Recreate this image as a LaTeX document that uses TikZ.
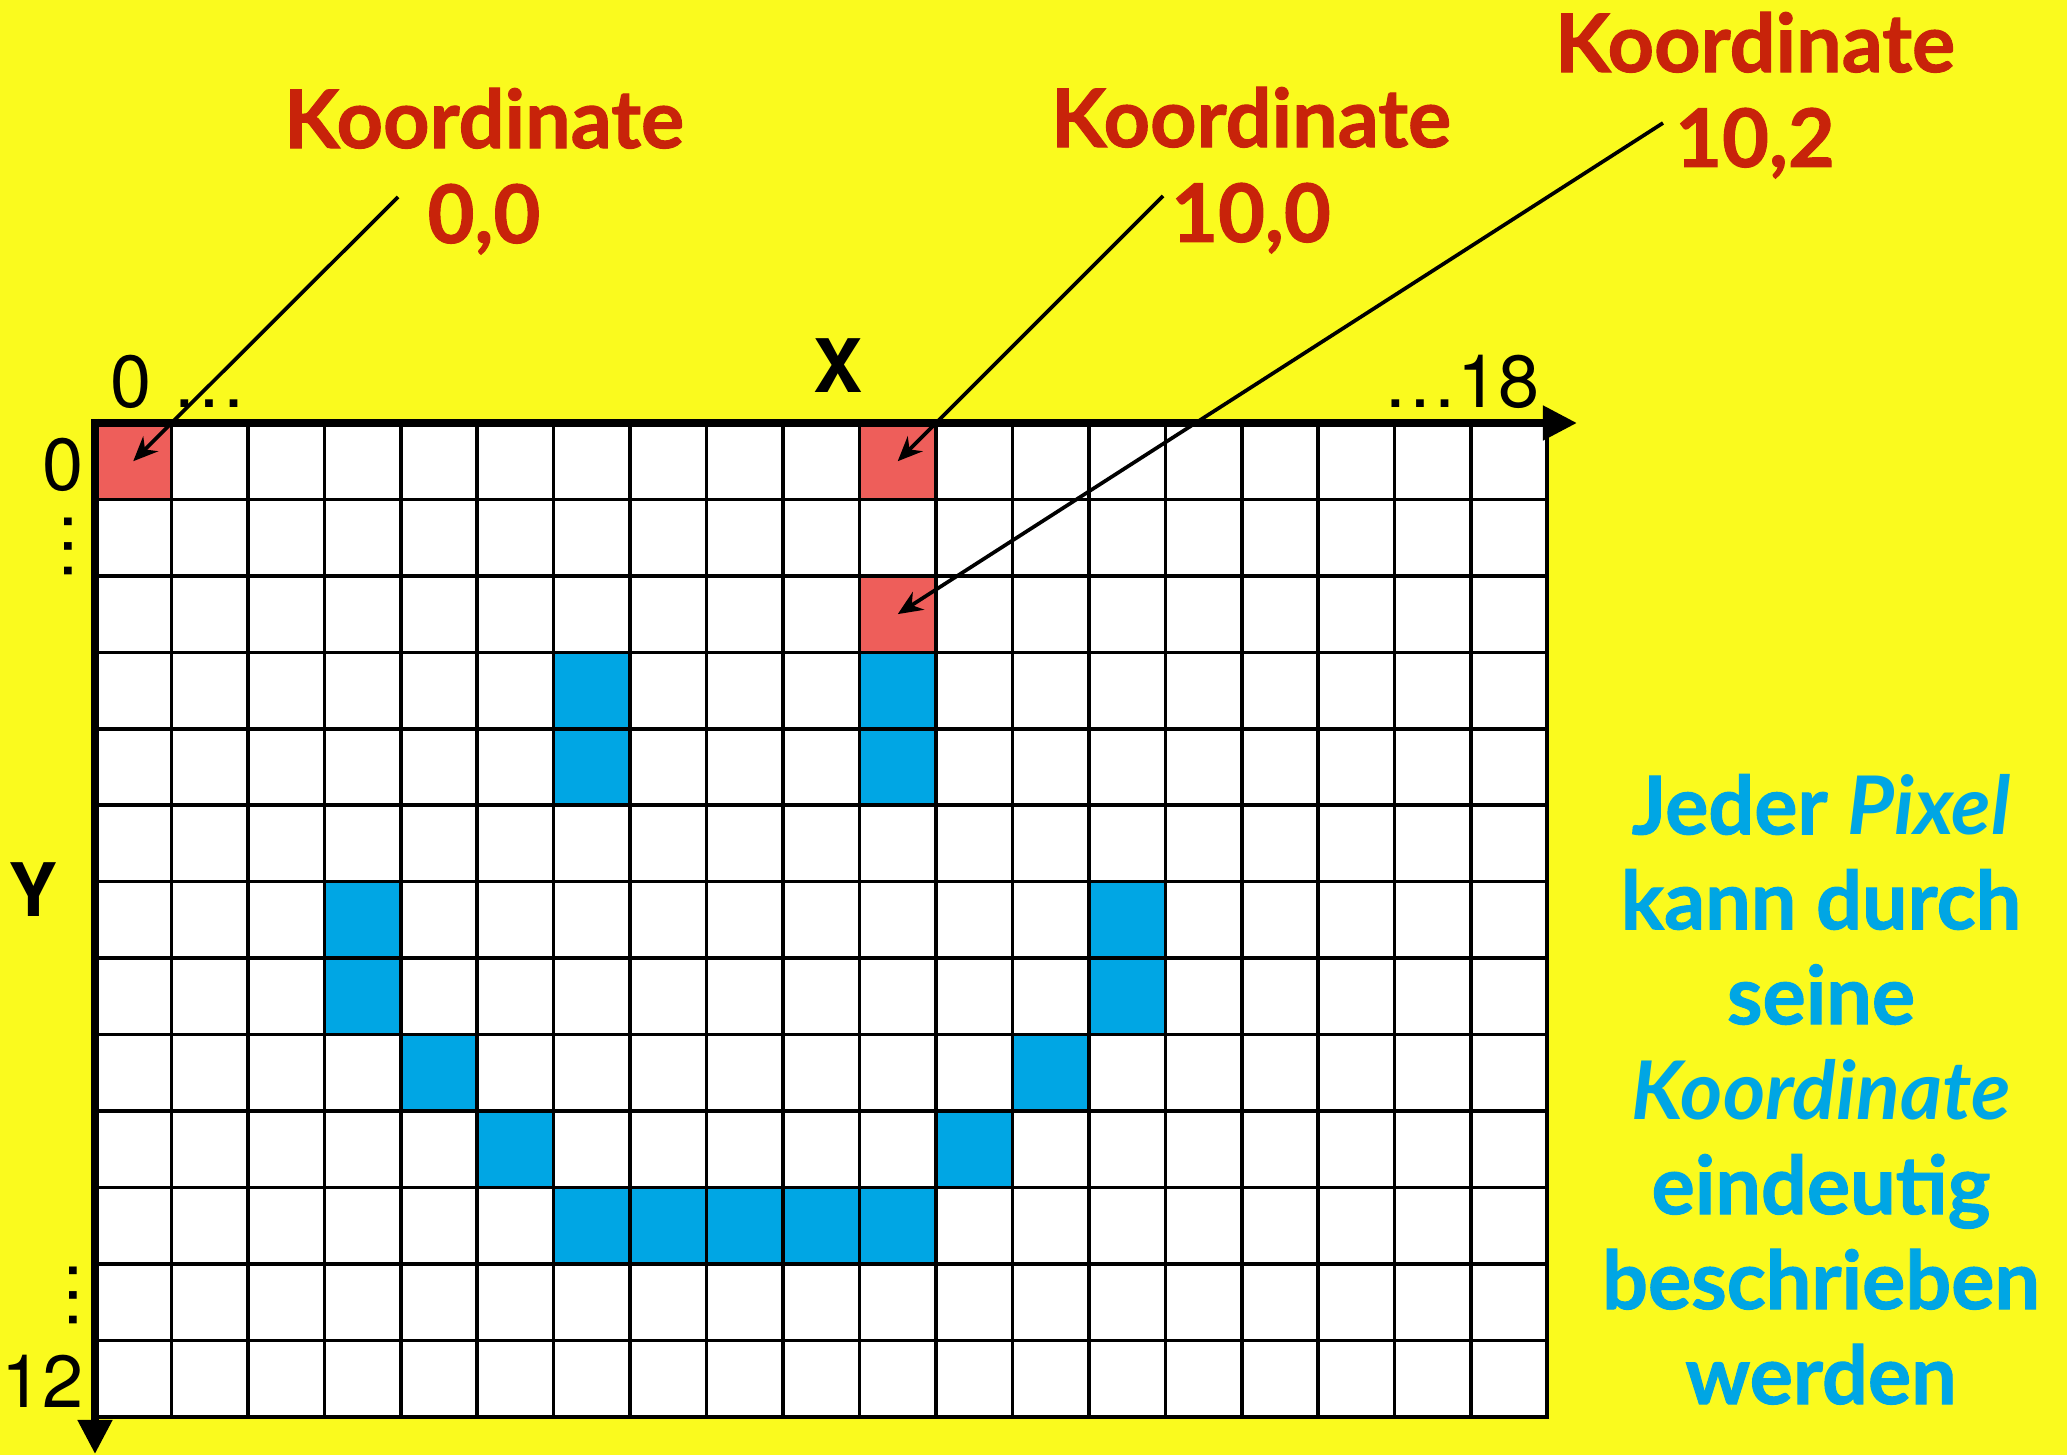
\documentclass[tikz,border=0pt]{standalone}
\usepackage{fontspec}
\usetikzlibrary{arrows.meta}
\newfontfamily\latof{Lato}[BoldFeatures={FakeBold=1.2}]
\newfontfamily\helvf{TeX Gyre Heros}
\definecolor{bgyellow}{HTML}{FAFA1E}
\definecolor{cellred}{HTML}{EE5E5A}
\definecolor{cellblue}{HTML}{00A6E4}
\definecolor{labelred}{HTML}{C8230A}
\definecolor{textblue}{HTML}{00A6E4}
\begin{document}
\begin{tikzpicture}[x=0.01cm,y=-0.01cm,
  cell/.style={minimum size=0.7645cm, inner sep=0pt, outer sep=0pt, draw=none},
  gridline/.style={line width=1pt, black},
  edgeline/.style={line width=1.2pt, black},
  axis/.style={line width=2.2pt, black, -{Triangle[length=9.7pt,width=9.4pt]}},
  pointer/.style={line width=1.05pt, black, -{Stealth[length=7pt,width=6pt]}},
  redlabel/.style={font=\latof\bfseries\fontsize{23}{27}\selectfont, text=labelred, align=center, inner sep=0pt, anchor=base},
  bluetext/.style={font=\latof\bfseries\fontsize{23}{27}\selectfont, text=textblue, align=center, inner sep=0pt, anchor=base},
  axnum/.style={font=\helvf\fontsize{21}{25}\selectfont, inner sep=0pt},
  axbold/.style={font=\helvf\bfseries\fontsize{21}{25}\selectfont, inner sep=0pt},
]
\useasboundingbox (0,0) rectangle (2067,1455);
\fill[bgyellow] (0,0) rectangle (2067,1455);
% grid area
\fill[white] (95,423) rectangle (1547,1417);
% red cells
\node[cell, fill=cellred] (r00) at ({95+0.5*76.45},{423+0.5*76.45}) {};
\node[cell, fill=cellred] (r100) at ({95+10.5*76.45},{423+0.5*76.45}) {};
\node[cell, fill=cellred] (r102) at ({95+10.5*76.45},{423+2.5*76.45}) {};
% blue cells
\foreach \c/\r in {6/3,6/4,10/3,10/4,3/6,3/7,13/6,13/7,4/8,12/8,5/9,11/9,6/10,7/10,8/10,9/10,10/10}
  \node[cell, fill=cellblue] (b\c-\r) at ({95+(\c+0.5)*76.45},{423+(\r+0.5)*76.45}) {};
% grid lines
\foreach \i in {1,...,18}
  \draw[gridline] ({95+\i*76.45},423) -- ({95+\i*76.45},1417);
\foreach \j in {1,...,12}
  \draw[gridline] (95,{423+\j*76.45}) -- (1547,{423+\j*76.45});
\draw[edgeline] (1547,423) -- (1547,1417) -- (95,1417);
% axes
\draw[axis] (91,423) -- (1577,423);
\draw[axis] (95,419) -- (95,1454);
% axis labels
\node[axnum, anchor=base west] (x0) at (110,407) {0 …};
\node[axnum, anchor=base east] (x18) at (1540,407) {…18};
\node[axnum, anchor=base east] (y0) at (84,491) {0};
\node[axnum, anchor=base east] (y12) at (84,1407) {12};
\node[axnum, rotate=-90] (yd1) at (68,546) {…};
\node[axnum, rotate=-90] (yd2) at (73,1295) {…};
\node[axbold, anchor=base] (xl) at (838,393) {X};
\node[axbold, anchor=base] (yl) at (33,916) {Y};
% labels (base = baseline of last line)
\node[redlabel] (l1) at (484,243) {Koordinate\\0,0};
\node[redlabel] (l2) at (1251,242) {Koordinate\\10,0};
\node[redlabel] (l3) at (1755,167) {Koordinate\\10,2};
\coordinate (s1) at (398,197);
\coordinate (s2) at (1163,196);
\coordinate (s3) at (1663,123);
\draw[pointer] (s1) -- (r00.center);
\draw[pointer] (s2) -- (r100.center);
\draw[pointer] (s3) -- (r102.center);
% description
\node[bluetext] (desc) at (1821,1404) {Jeder \textit{Pixel}\\kann durch\\seine\\\textit{Koordinate}\\eindeutig\\beschrieben\\werden};
\end{tikzpicture}
\end{document}
